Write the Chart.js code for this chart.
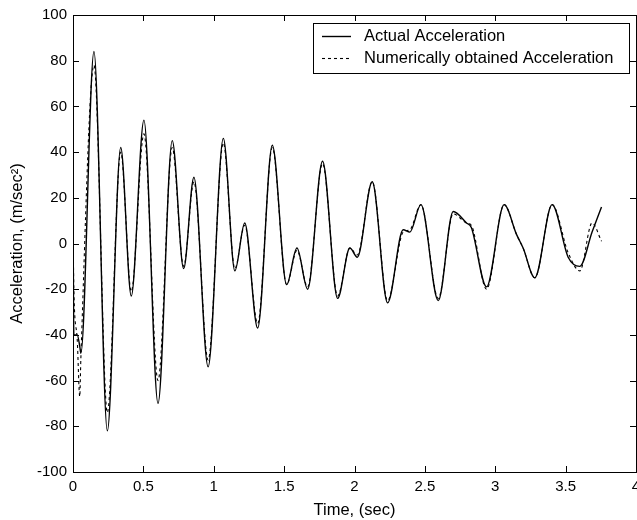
<!DOCTYPE html>
<html>
<head>
<meta charset="utf-8">
<script src="https://cdn.jsdelivr.net/npm/chart.js@4.4.0/dist/chart.umd.min.js"></script>
<style>
    html, body { margin: 0; padding: 0; background: #fff; overflow: hidden; }
    #wrap { width: 637px; height: 520px; overflow: hidden; }
</style>
</head>
<body>
<div id="wrap"><canvas id="chart" width="650" height="520"></canvas></div>
<script>
// values
const times = [
    0.000, 0.006, 0.030, 0.048, 0.056, 0.149, 0.244, 0.339, 0.414, 0.504,
    0.604, 0.705, 0.786, 0.859, 0.960, 1.068, 1.150, 1.220, 1.312, 1.416,
    1.518, 1.591, 1.667, 1.773, 1.880, 1.967, 2.020, 2.126, 2.235, 2.346,
    2.393, 2.472, 2.595, 2.701, 2.796, 2.830, 2.938, 3.063, 3.151, 3.198,
    3.281, 3.404, 3.518, 3.601, 3.688, 3.755
];
const actualAccel = [
    20, -40, -40, -45, -48, 84, -82, 42, -23, 54,
    -70, 45, -11, 29, -54, 46, -12, 9, -37, 43,
    -18, -2, -20, 36, -24, -2, -6, 27, -26, 6,
    5, 17, -25, 14, 9, 7, -19, 17, 4, -2,
    -15, 17, -6, -10, 5, 16
];
const numericAccel = [
    8, -20, -42, -67, -50, 78, -74, 40, -21, 48,
    -60, 42, -10, 27, -51, 44, -11, 8, -35, 42,
    -18, -3, -19, 35, -23, -2, -5, 27, -25, 5,
    6, 17, -24, 13, 9, 8, -20, 17, 4, -2,
    -15, 17, -4, -12, 9, 1
];
const xTicks = [0, 0.5, 1, 1.5, 2, 2.5, 3, 3.5, 4];
const yTicks = [-100, -80, -60, -40, -20, 0, 20, 40, 60, 80, 100];
const seriesNames = ['Actual Acceleration', 'Numerically obtained Acceleration'];

const FONT = '"Liberation Sans", Arial, sans-serif';

function toPoints(values) {
    return times.map((t, i) => ({ x: t, y: values[i] }));
}

// plot frame with inward tick marks on all four sides
const frameTicks = {
    id: 'frameTicks',
    afterDraw(chart) {
        const { ctx, chartArea: a, scales } = chart;
        const len = 6;
        ctx.save();
        ctx.strokeStyle = '#000';
        ctx.lineWidth = 1;
        ctx.strokeRect(a.left + 0.5, a.top + 0.5, a.right - a.left, a.bottom - a.top);
        ctx.beginPath();
        xTicks.forEach(v => {
            const px = Math.round(scales.x.getPixelForValue(v)) + 0.5;
            ctx.moveTo(px, a.bottom);
            ctx.lineTo(px, a.bottom - len);
            ctx.moveTo(px, a.top);
            ctx.lineTo(px, a.top + len);
        });
        yTicks.forEach(v => {
            const py = Math.round(scales.y.getPixelForValue(v)) + 0.5;
            ctx.moveTo(a.left, py);
            ctx.lineTo(a.left + len, py);
            ctx.moveTo(a.right, py);
            ctx.lineTo(a.right - len, py);
        });
        ctx.stroke();
        ctx.restore();
    }
};

// boxed legend in the upper right corner of the plot
const boxLegend = {
    id: 'boxLegend',
    afterDraw(chart) {
        const { ctx, chartArea: a } = chart;
        ctx.save();
        ctx.font = '16.5px ' + FONT;
        const textW = Math.max(...seriesNames.map(n => ctx.measureText(n).width));
        const w = Math.round(51 + textW + 16);
        const h = 50;
        const right = a.right - 7;
        const top = a.top + 8;
        const left = right - w;
        ctx.fillStyle = '#fff';
        ctx.fillRect(left, top, w, h);
        ctx.strokeStyle = '#000';
        ctx.lineWidth = 1;
        ctx.strokeRect(left + 0.5, top + 0.5, w, h);
        chart.data.datasets.forEach((ds, i) => {
            const y = top + 13 + i * 22 + 0.5;
            ctx.beginPath();
            ctx.setLineDash(ds.borderDash || []);
            ctx.lineWidth = ds.borderWidth;
            ctx.moveTo(left + 9, y);
            ctx.lineTo(left + 38, y);
            ctx.stroke();
            ctx.setLineDash([]);
            ctx.fillStyle = '#000';
            ctx.textBaseline = 'middle';
            ctx.fillText(ds.label, left + 51, y);
        });
        ctx.restore();
    }
};

const tickFont = { family: FONT, size: 15 };
const titleFont = { family: FONT, size: 16.5 };

new Chart(document.getElementById('chart').getContext('2d'), {
    type: 'line',
    data: {
        datasets: [
            {
                label: seriesNames[0],
                data: toPoints(actualAccel),
                borderColor: '#000',
                borderWidth: 1.4,
                pointRadius: 0,
                fill: false,
                cubicInterpolationMode: 'monotone'
            },
            {
                label: seriesNames[1],
                data: toPoints(numericAccel),
                borderColor: '#000',
                borderWidth: 1.1,
                borderDash: [3, 3],
                pointRadius: 0,
                fill: false,
                cubicInterpolationMode: 'monotone'
            }
        ]
    },
    options: {
        responsive: false,
        animation: false,
        events: [],
        layout: { padding: { left: 0, right: 14, top: 14, bottom: 0 } },
        plugins: {
            legend: { display: false },
            tooltip: { enabled: false }
        },
        scales: {
            x: {
                type: 'linear',
                min: 0,
                max: 4,
                afterBuildTicks: s => { s.ticks = xTicks.map(v => ({ value: v })); },
                afterFit: s => { s.height = 48; },
                grid: { display: false, drawTicks: false },
                border: { display: false },
                ticks: {
                    color: '#000',
                    font: tickFont,
                    padding: 6,
                    maxRotation: 0,
                    autoSkip: false,
                    callback: v => String(v)
                },
                title: {
                    display: true,
                    text: 'Time, (sec)',
                    color: '#000',
                    font: titleFont,
                    padding: { top: 0, bottom: 0 }
                }
            },
            y: {
                type: 'linear',
                min: -100,
                max: 100,
                afterBuildTicks: s => { s.ticks = yTicks.map(v => ({ value: v })); },
                afterFit: s => { s.width = 73; },
                grid: { display: false, drawTicks: false },
                border: { display: false },
                ticks: {
                    color: '#000',
                    font: tickFont,
                    padding: 6,
                    autoSkip: false,
                    callback: v => String(v)
                },
                title: {
                    display: true,
                    text: 'Acceleration, (m/sec²)',
                    color: '#000',
                    font: titleFont,
                    padding: { top: 8, bottom: 0 }
                }
            }
        }
    },
    plugins: [frameTicks, boxLegend]
});
</script>
</body>
</html>
